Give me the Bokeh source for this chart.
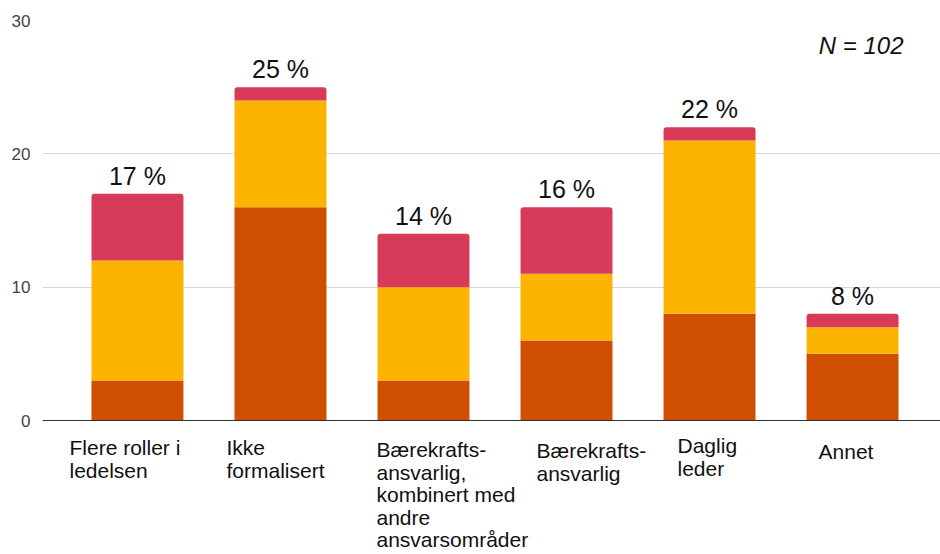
from bokeh.plotting import figure
from bokeh.models import ColumnDataSource, Label, LabelSet, FixedTicker, Range1d, Span
from bokeh.core.properties import value
from bokeh.embed import file_html
from bokeh.resources import INLINE

# ---- data ----
category_lines = [
    ["Flere roller i", "ledelsen"],
    ["Ikke", "formalisert"],
    ["Bærekrafts-", "ansvarlig,", "kombinert med", "andre", "ansvarsområder"],
    ["Bærekrafts-", "ansvarlig"],
    ["Daglig", "leder"],
    ["Annet"],
]
bottom_vals = [3, 16, 3, 6, 8, 5]
middle_vals = [9, 8, 7, 5, 13, 2]
top_vals = [5, 1, 4, 5, 1, 1]
pct_labels = ["17 %", "25 %", "14 %", "16 %", "22 %", "8 %"]
y_ticks = [0, 10, 20, 30]
n_label = "N = 102"

# ---- styles ----
colors = ["#cf4e00", "#fcb400", "#d83b59"]
FONT = "Liberation Sans"
label_x_offsets = [-68, -54, -47, -30, -32, -34]
label_base_offsets = [27, 27, 29, 30, 25, 31]
line_step = 22.5

n = len(category_lines)
xs = list(range(n))
s1_top = [b for b in bottom_vals]
s2_top = [b + m for b, m in zip(bottom_vals, middle_vals)]
totals = [a + t for a, t in zip(s2_top, top_vals)]

src = ColumnDataSource(dict(
    x=xs, z=[0] * n, s1=s1_top, s2=s2_top, tot=totals, pct=pct_labels,
))

# frame spans 20..554 px vertically; 0..30 occupies 20..420 px
p = figure(width=940, height=554, output_backend="svg", toolbar_location=None,
           x_range=Range1d(-0.664, 5.615), y_range=Range1d(-10.05, 30),
           min_border_left=42, min_border_right=0, min_border_top=20,
           min_border_bottom=0)
p.outline_line_color = None
p.background_fill_color = "white"
p.border_fill_color = "white"

bw = 0.643
p.vbar(x="x", bottom="z", top="s1", width=bw, source=src, fill_color=colors[0], line_color=None)
p.vbar(x="x", bottom="s1", top="s2", width=bw, source=src, fill_color=colors[1], line_color=None)
p.vbar(x="x", bottom="s2", top="tot", width=bw, source=src, fill_color=colors[2], line_color=None,
       border_radius=(3, 3, 0, 0))

p.add_layout(Span(location=0, dimension="width", line_color="#333333", line_width=1))

p.add_layout(LabelSet(x="x", y="tot", text="pct", source=src, y_offset=9,
                      text_align="center", text_baseline="alphabetic",
                      text_font=value(FONT), text_font_size=value("25px"),
                      text_color="#111111"))

for i, lines in enumerate(category_lines):
    for j, line in enumerate(lines):
        p.add_layout(Label(x=xs[i], y=0, x_offset=label_x_offsets[i],
                           y_offset=-(label_base_offsets[i] + line_step * j),
                           text=line, text_align="left", text_baseline="alphabetic",
                           text_font=FONT, text_font_size="21px", text_color="#111111"))

p.add_layout(Label(x=xs[-1], y=y_ticks[-1], x_offset=51, y_offset=-25, text=n_label,
                   text_align="right", text_baseline="alphabetic", text_font=FONT,
                   text_font_size="24px", text_font_style="italic", text_color="#111111"))

# axes
p.xaxis.visible = False
p.yaxis.ticker = FixedTicker(ticks=y_ticks)
p.yaxis.axis_line_color = None
p.yaxis.major_tick_line_color = None
p.yaxis.minor_tick_line_color = None
p.yaxis.major_label_text_font = FONT
p.yaxis.major_label_text_font_size = "17px"
p.yaxis.major_label_text_color = "#444444"
p.yaxis.major_label_standoff = 6

p.xgrid.visible = False
p.ygrid.ticker = FixedTicker(ticks=y_ticks)
p.ygrid.grid_line_color = "#d6d6d6"
p.ygrid.grid_line_width = 1

open("out.html", "w").write(file_html(p, INLINE))
